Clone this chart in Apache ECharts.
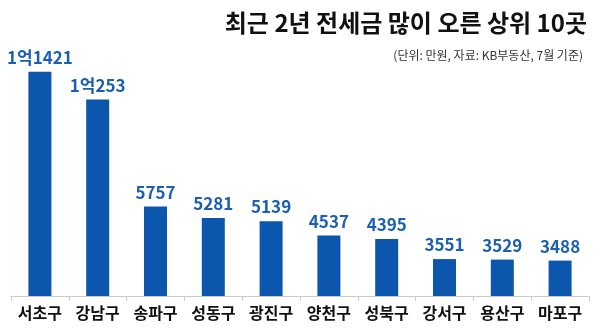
<!DOCTYPE html>
<html>
<head>
<meta charset="utf-8">
<script src="https://cdn.jsdelivr.net/npm/echarts@6/dist/echarts.min.js"></script>
<style>
  html, body { margin: 0; padding: 0; background: #ffffff; }
  #chart { width: 600px; height: 334px; }
</style>
</head>
<body>
<div id="chart"></div>
<script>
// 최근 2년 전세금 상승폭 상위 10개 구 (단위: 만원)
const districts = ['서초구', '강남구', '송파구', '성동구', '광진구', '양천구', '성북구', '강서구', '용산구', '마포구'];
const increases = [11421, 10253, 5757, 5281, 5139, 4537, 4395, 3551, 3529, 3488];

const titleText = '최근 2년 전세금 많이 오른 상위 10곳';
const subtitleText = '(단위: 만원, 자료: KB부동산, 7월 기준)';

const FONT = '"Noto Sans CJK KR", "Noto Sans", sans-serif';

// 1만원 단위 값을 "1억1421" 형태로 표기
function formatManwon(v) {
  if (v >= 10000) {
    return Math.floor(v / 10000) + '억' + (v % 10000);
  }
  return String(v);
}

const chart = echarts.init(document.getElementById('chart'), null, { renderer: 'canvas' });

chart.setOption({
  backgroundColor: '#ffffff',
  animation: false,
  title: [
    {
      text: titleText,
      right: 8,
      top: 6,
      textStyle: { fontFamily: FONT, fontSize: 24, fontWeight: 'bold', color: '#111111' }
    },
    {
      text: subtitleText,
      right: 12,
      top: 44,
      textStyle: { fontFamily: FONT, fontSize: 12, fontWeight: 'normal', color: '#333333' }
    }
  ],
  grid: { left: 11, right: 11, top: 58, bottom: 38, containLabel: false },
  xAxis: {
    type: 'category',
    data: districts,
    axisLine: { show: true, lineStyle: { color: '#cccccc', width: 1 } },
    axisTick: { show: true, alignWithLabel: false, length: 5, lineStyle: { color: '#cccccc' } },
    axisLabel: {
      fontFamily: FONT, fontSize: 16, fontWeight: 'bold', color: '#111111', margin: 9, interval: 0
    }
  },
  yAxis: {
    type: 'value',
    min: 2000,
    max: 12000,
    show: false,
    splitLine: { show: false }
  },
  series: [{
    type: 'bar',
    data: increases,
    barWidth: 23,
    itemStyle: { color: '#0c56ad' },
    label: {
      show: true,
      position: 'top',
      distance: 6,
      formatter: p => formatManwon(p.value),
      fontFamily: FONT, fontSize: 17, fontWeight: 'bold', color: '#1a5fb2'
    }
  }]
});
</script>
</body>
</html>
